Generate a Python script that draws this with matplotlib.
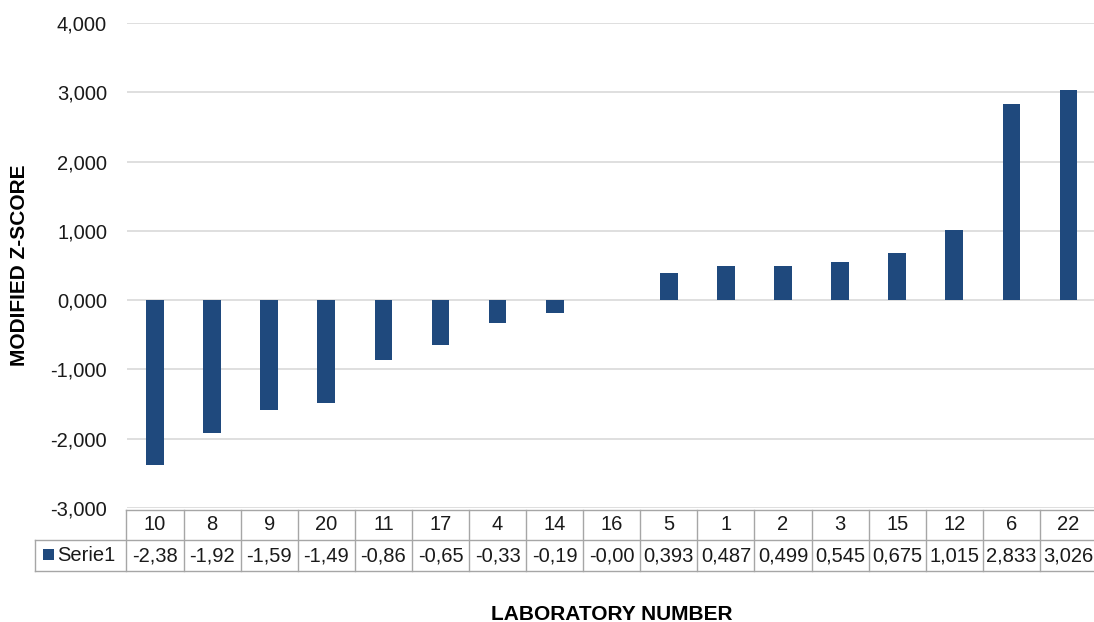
import matplotlib.pyplot as plt
import matplotlib.patches as patches
from matplotlib.transforms import blended_transform_factory

plt.rcParams['font.family'] = ['Liberation Sans', 'DejaVu Sans']

labs = ["10", "8", "9", "20", "11", "17", "4", "14", "16", "5", "1", "2", "3", "15", "12", "6", "22"]
zscores = [-2.38, -1.92, -1.59, -1.49, -0.86, -0.65, -0.33, -0.19, -0.001,
           0.393, 0.487, 0.499, 0.545, 0.675, 1.015, 2.833, 3.026]
yticks = [-3, -2, -1, 0, 1, 2, 3, 4]
series_name = "Serie1"

W, H = 1094, 622
bar_color = "#1f497d"
grid_color = "#d9d9d9"
border_color = "#a6a6a6"
txt_color = "#1a1a1a"
fs = 14.5


def fy(px):
    # figure fraction from pixel row
    return 1 - px / H


def comma(v, nd):
    return f"{v:.{nd}f}".replace(".", ",")


def cell_text(v):
    return comma(v, 2) if v < 0 else comma(v, 3)


fig = plt.figure(figsize=(W / 100, H / 100), dpi=100)
ax = fig.add_axes([126.5 / W, fy(508), (1097 - 126.5) / W, (508 - 23) / H])

x = list(range(len(labs)))
ax.bar(x, zscores, width=0.31, color=bar_color, zorder=3)

ax.set_xlim(-0.5, len(labs) - 0.5)
ax.set_ylim(yticks[0], yticks[-1])
ax.set_yticks(yticks)
ax.set_yticklabels([comma(v, 3) for v in yticks], fontsize=fs, color=txt_color)
ax.tick_params(axis="y", length=0, pad=14)
ax.set_xticks([])
ax.grid(axis="y", color=grid_color, linewidth=1.2, zorder=0)
for s in ax.spines.values():
    s.set_visible(False)

# data table under the plot
tr = blended_transform_factory(ax.transData, fig.transFigure)
top, mid, bot = fy(509.5), fy(540), fy(571)
left_x = -0.5 - (126.5 - 35) / 57.1
lkw = dict(color=border_color, linewidth=1.0, transform=tr, clip_on=False)

ax.plot([-0.5, len(labs) - 0.5], [top, top], **lkw)
ax.plot([left_x, len(labs) - 0.5], [mid, mid], **lkw)
ax.plot([left_x, len(labs) - 0.5], [bot, bot], **lkw)
ax.plot([left_x, left_x], [mid, bot], **lkw)
for i in range(len(labs) + 1):
    ax.plot([i - 0.5, i - 0.5], [top, bot], **lkw)

for i, (lab, v) in enumerate(zip(labs, zscores)):
    ax.text(i, (top + mid) / 2, lab, transform=tr, ha="center", va="center",
            fontsize=fs, color=txt_color, clip_on=False)
    ax.text(i, (mid + bot) / 2, cell_text(v), transform=tr, ha="center", va="center",
            fontsize=fs, color=txt_color, clip_on=False)

fig.add_artist(patches.Rectangle((43 / W, fy(560)), 11 / W, 11 / H,
                                 facecolor=bar_color, edgecolor="none",
                                 transform=fig.transFigure))
fig.text(57 / W, (mid + bot) / 2, series_name, ha="left", va="center",
         fontsize=fs, color=txt_color)

fig.text(612 / W, fy(614), "LABORATORY NUMBER", ha="center", va="center",
         fontsize=15, fontweight="bold", color="black")
fig.text(20 / W, fy(265), "MODIFIED Z-SCORE", ha="center", va="center",
         rotation=90, fontsize=15, fontweight="bold", color="black")

fig.savefig("out.png", dpi=100)
